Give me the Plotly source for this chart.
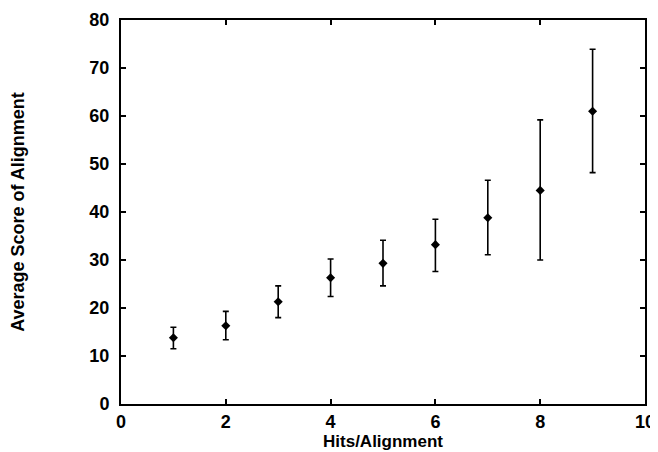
import plotly.graph_objects as go

hits = [1, 2, 3, 4, 5, 6, 7, 8, 9]
avg_score = [13.8, 16.3, 21.3, 26.3, 29.3, 33.2, 38.8, 44.5, 61.0]
upper = [16.0, 19.3, 24.6, 30.2, 34.1, 38.5, 46.6, 59.2, 73.9]
lower = [11.5, 13.4, 18.0, 22.4, 24.6, 27.6, 31.1, 30.0, 48.2]

err_plus = [u - m for u, m in zip(upper, avg_score)]
err_minus = [m - l for m, l in zip(avg_score, lower)]

fig = go.Figure()
fig.add_trace(go.Scatter(
    x=hits, y=avg_score, mode="markers",
    marker=dict(symbol="diamond", size=7, color="black"),
    error_y=dict(type="data", symmetric=False, array=err_plus, arrayminus=err_minus,
                 color="black", thickness=1.6, width=3),
    showlegend=False,
))

fig.update_layout(
    width=650, height=444,
    margin=dict(l=113, r=13, t=12, b=48),
    paper_bgcolor="white", plot_bgcolor="white",
    font=dict(family="Liberation Sans, Arial, sans-serif", color="black"),
)
fig.update_xaxes(
    range=[0, 10], tickvals=[0, 2, 4, 6, 8, 10], ticktext=["0", "2", "4", "6", "8", "10"],
    ticks="inside", ticklen=5, tickwidth=1.5, tickcolor="black",
    showline=True, linecolor="black", linewidth=2, mirror="allticks",
    showgrid=False, zeroline=False, automargin=False,
    tickfont=dict(size=18, weight="bold"),
    title=dict(text="Hits/Alignment", font=dict(size=17, weight="bold"), standoff=0),
)
fig.update_yaxes(
    range=[0, 80], tickvals=list(range(0, 90, 10)),
    ticks="inside", ticklen=5, tickwidth=1.5, tickcolor="black",
    showline=True, linecolor="black", linewidth=2, mirror="allticks",
    showgrid=False, zeroline=False, automargin=False,
    tickfont=dict(size=18, weight="bold"), ticklabelstandoff=6,
    title=dict(text="Average Score of Alignment", font=dict(size=18, weight="bold"), standoff=64),
)

fig.write_html("out.html")
